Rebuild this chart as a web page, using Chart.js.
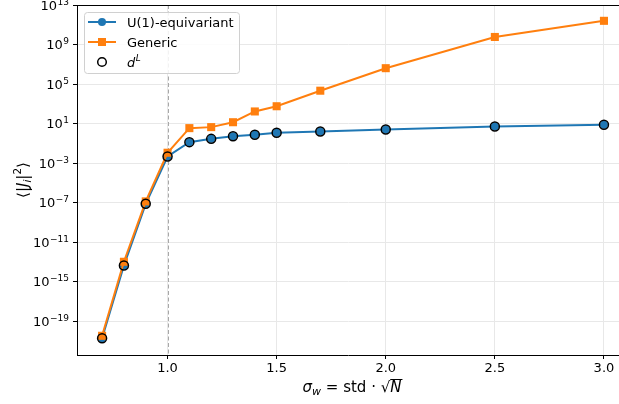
<!DOCTYPE html>
<html>
<head>
<meta charset="utf-8">
<script src="https://cdn.jsdelivr.net/npm/chart.js@4"></script>
<style>
html, body { margin: 0; padding: 0; background: #fff; }
#wrap { width: 619px; height: 404px; }
</style>
</head>
<body>
<div id="wrap"><canvas id="myChart" width="619" height="404"></canvas></div>
<script>
// data
var sigmaW = [0.7, 0.8, 0.9, 1.0, 1.1, 1.2, 1.3, 1.4, 1.5, 1.7, 2.0, 2.5, 3.0];
var u1Vals = [1.8e-21, 4.2e-14, 7.4e-8, 4.6e-3, 0.13, 0.28, 0.52, 0.72, 1.15, 1.55, 2.45, 5.0, 7.4];
var genericVals = [3.2e-21, 1.0e-13, 1.3e-7, 1.1e-2, 3.4, 4.3, 13.5, 166, 560, 2.1e4, 4.0e6, 5.8e9, 2.5e11];
var dLVals = [1.8e-21, 4.2e-14, 7.4e-8, 4.6e-3, 0.13, 0.28, 0.52, 0.72, 1.15, 1.55, 2.45, 5.0, 7.4];
var xTicks = [1.0, 1.5, 2.0, 2.5, 3.0];
var yTickExps = [-19, -15, -11, -7, -3, 1, 5, 9, 13];

var blue = '#1f77b4';
var orange = '#ff7f0e';
var FONT = '"DejaVu Sans", sans-serif';

function toPoints(xs, ys) {
    return xs.map(function (x, i) { return { x: x, y: ys[i] }; });
}

// FUNCTION: draw a row of text pieces with different fonts
function drawRuns(ctx, runs, x, y, align) {
    var total = 0;
    runs.forEach(function (r) { ctx.font = r.font; total += ctx.measureText(r.t).width + (r.gap || 0); });
    var cx = x;
    if (align === 'center') cx = x - total / 2;
    if (align === 'right') cx = x - total;
    ctx.textBaseline = 'alphabetic';
    ctx.textAlign = 'left';
    runs.forEach(function (r) {
        ctx.font = r.font;
        ctx.fillText(r.t, cx, y + (r.dy || 0));
        var w = ctx.measureText(r.t).width;
        if (r.over) {
            ctx.save();
            ctx.strokeStyle = ctx.fillStyle;
            ctx.lineWidth = 1;
            ctx.beginPath();
            ctx.moveTo(cx, y + r.over + 0.5);
            ctx.lineTo(cx + w + 1, y + r.over + 0.5);
            ctx.stroke();
            ctx.restore();
        }
        cx += w + (r.gap || 0);
    });
}

// no extra room for the end tick labels
function noPad(s) {
    s.paddingLeft = 0; s.paddingRight = 0; s.paddingTop = 0; s.paddingBottom = 0;
}

var extras = {
    id: 'extras',
    beforeDatasetsDraw: function (chart) {
        var ctx = chart.ctx, a = chart.chartArea;
        var xp = Math.round(chart.scales.x.getPixelForValue(1.0)) + 0.5;
        ctx.save();
        ctx.strokeStyle = '#a8a8a8';
        ctx.lineWidth = 1;
        ctx.setLineDash([4, 2.5]);
        ctx.beginPath();
        ctx.moveTo(xp, a.top);
        ctx.lineTo(xp, a.bottom);
        ctx.stroke();
        ctx.restore();
    },
    afterDraw: function (chart) {
        var ctx = chart.ctx, a = chart.chartArea;
        ctx.save();
        // top spine
        ctx.strokeStyle = '#000';
        ctx.lineWidth = 1;
        ctx.beginPath();
        ctx.moveTo(a.left, a.top + 0.5);
        ctx.lineTo(a.right, a.top + 0.5);
        ctx.stroke();

        // y tick labels 10^n
        ctx.fillStyle = '#000';
        var ys = chart.scales.y;
        yTickExps.forEach(function (e) {
            var py = ys.getPixelForValue(Math.pow(10, e));
            drawRuns(ctx, [
                { t: '10', font: '13px ' + FONT, gap: 0.5 },
                { t: String(e).replace('-', '\u2212'), font: '9px ' + FONT, dy: -5 }
            ], 69, py + 4.7, 'right');
        });

        // legend box
        var bx = 84.5, by = 12.5, bw = 155, bh = 61, r = 3;
        ctx.fillStyle = 'rgba(255,255,255,0.85)';
        ctx.strokeStyle = '#d0d0d0';
        ctx.beginPath();
        ctx.moveTo(bx + r, by);
        ctx.arcTo(bx + bw, by, bx + bw, by + bh, r);
        ctx.arcTo(bx + bw, by + bh, bx, by + bh, r);
        ctx.arcTo(bx, by + bh, bx, by, r);
        ctx.arcTo(bx, by, bx + bw, by, r);
        ctx.closePath();
        ctx.fill();
        ctx.stroke();

        var rows = [22, 42, 62];
        // U(1) row
        ctx.strokeStyle = blue; ctx.lineWidth = 2;
        ctx.beginPath(); ctx.moveTo(88, rows[0]); ctx.lineTo(116, rows[0]); ctx.stroke();
        ctx.fillStyle = blue;
        ctx.beginPath(); ctx.arc(102, rows[0], 4, 0, Math.PI * 2); ctx.fill();
        // Generic row
        ctx.strokeStyle = orange;
        ctx.beginPath(); ctx.moveTo(88, rows[1]); ctx.lineTo(116, rows[1]); ctx.stroke();
        ctx.fillStyle = orange;
        ctx.fillRect(98, rows[1] - 4, 8, 8);
        // d^L row
        ctx.strokeStyle = '#000'; ctx.lineWidth = 1.5;
        ctx.beginPath(); ctx.arc(102, rows[2], 4.3, 0, Math.PI * 2); ctx.stroke();

        ctx.fillStyle = '#000';
        var lf = '13px ' + FONT;
        drawRuns(ctx, [{ t: 'U(1)-equivariant', font: lf }], 127, rows[0] + 5, 'left');
        drawRuns(ctx, [{ t: 'Generic', font: lf }], 127, rows[1] + 5, 'left');
        drawRuns(ctx, [
            { t: 'd', font: 'italic 13px ' + FONT, gap: 0.5 },
            { t: 'L', font: 'italic 9px ' + FONT, dy: -6 }
        ], 127, rows[2] + 5, 'left');

        // x label
        var xf = '15px ' + FONT, xi = 'italic 15px ' + FONT;
        drawRuns(ctx, [
            { t: 'σ', font: xi },
            { t: 'w', font: 'italic 11px ' + FONT, dy: 3 },
            { t: ' = std · ', font: xf },
            { t: '√', font: xf },
            { t: 'N', font: xi, over: -13 }
        ], 352, 392, 'center');

        // y label
        var yf = '15px ' + FONT, yi = 'italic 15px ' + FONT;
        ctx.translate(23, (a.top + a.bottom) / 2);
        ctx.rotate(-Math.PI / 2);
        drawRuns(ctx, [
            { t: '⟨|', font: yf },
            { t: 'J', font: yi },
            { t: 'i', font: 'italic 10.5px ' + FONT, dy: 3 },
            { t: '|', font: yf },
            { t: '2', font: '10.5px ' + FONT, dy: -7 },
            { t: '⟩', font: yf }
        ], 0, 5, 'center');
        ctx.restore();
    }
};

var ctx = document.getElementById('myChart').getContext('2d');

var chart = new Chart(ctx, {
    type: 'line',
    data: {
        datasets: [{
            label: 'U(1)-equivariant',
            data: toPoints(sigmaW, u1Vals),
            borderColor: blue,
            backgroundColor: blue,
            borderWidth: 2,
            pointStyle: 'circle',
            pointRadius: 4,
            pointBorderWidth: 0,
            order: 2
        }, {
            label: 'Generic',
            data: toPoints(sigmaW, genericVals),
            borderColor: orange,
            backgroundColor: orange,
            borderWidth: 2,
            pointStyle: 'rect',
            pointRadius: 5.7,
            pointBorderWidth: 0,
            order: 1
        }, {
            label: 'dL',
            data: toPoints(sigmaW, dLVals),
            showLine: false,
            borderColor: '#000',
            backgroundColor: 'rgba(0,0,0,0)',
            pointStyle: 'circle',
            pointRadius: 4.5,
            pointBorderWidth: 1.5,
            order: 0
        }]
    },
    options: {
        responsive: false,
        animation: false,
        devicePixelRatio: 1,
        layout: { autoPadding: false, padding: { left: 0, top: 5, right: 0, bottom: 0 } },
        plugins: { legend: { display: false }, tooltip: { enabled: false } },
        scales: {
            x: {
                type: 'linear',
                min: 0.585,
                max: 3.069,
                afterBuildTicks: function (s) { s.ticks = xTicks.map(function (v) { return { value: v }; }); },
                afterFit: function (s) { s.height = 49; noPad(s); },
                ticks: {
                    color: '#000',
                    font: { family: FONT, size: 13 },
                    padding: 2,
                    maxRotation: 0,
                    callback: function (v) { return Number(v).toFixed(1); }
                },
                grid: { color: '#e8e8e8', tickColor: '#000', tickLength: 4 },
                border: { color: '#000', width: 1 }
            },
            y: {
                type: 'logarithmic',
                min: Math.pow(10, -22.44),
                max: 1e13,
                afterBuildTicks: function (s) { s.ticks = yTickExps.map(function (e) { return { value: Math.pow(10, e) }; }); },
                afterFit: function (s) { s.width = 77; noPad(s); },
                ticks: {
                    // labels are drawn by the extras plugin
                    callback: function () { return ''; }
                },
                grid: { color: '#e8e8e8', tickColor: '#000', tickLength: 4 },
                border: { color: '#000', width: 1 }
            }
        }
    },
    plugins: [extras]
});
</script>
</body>
</html>
